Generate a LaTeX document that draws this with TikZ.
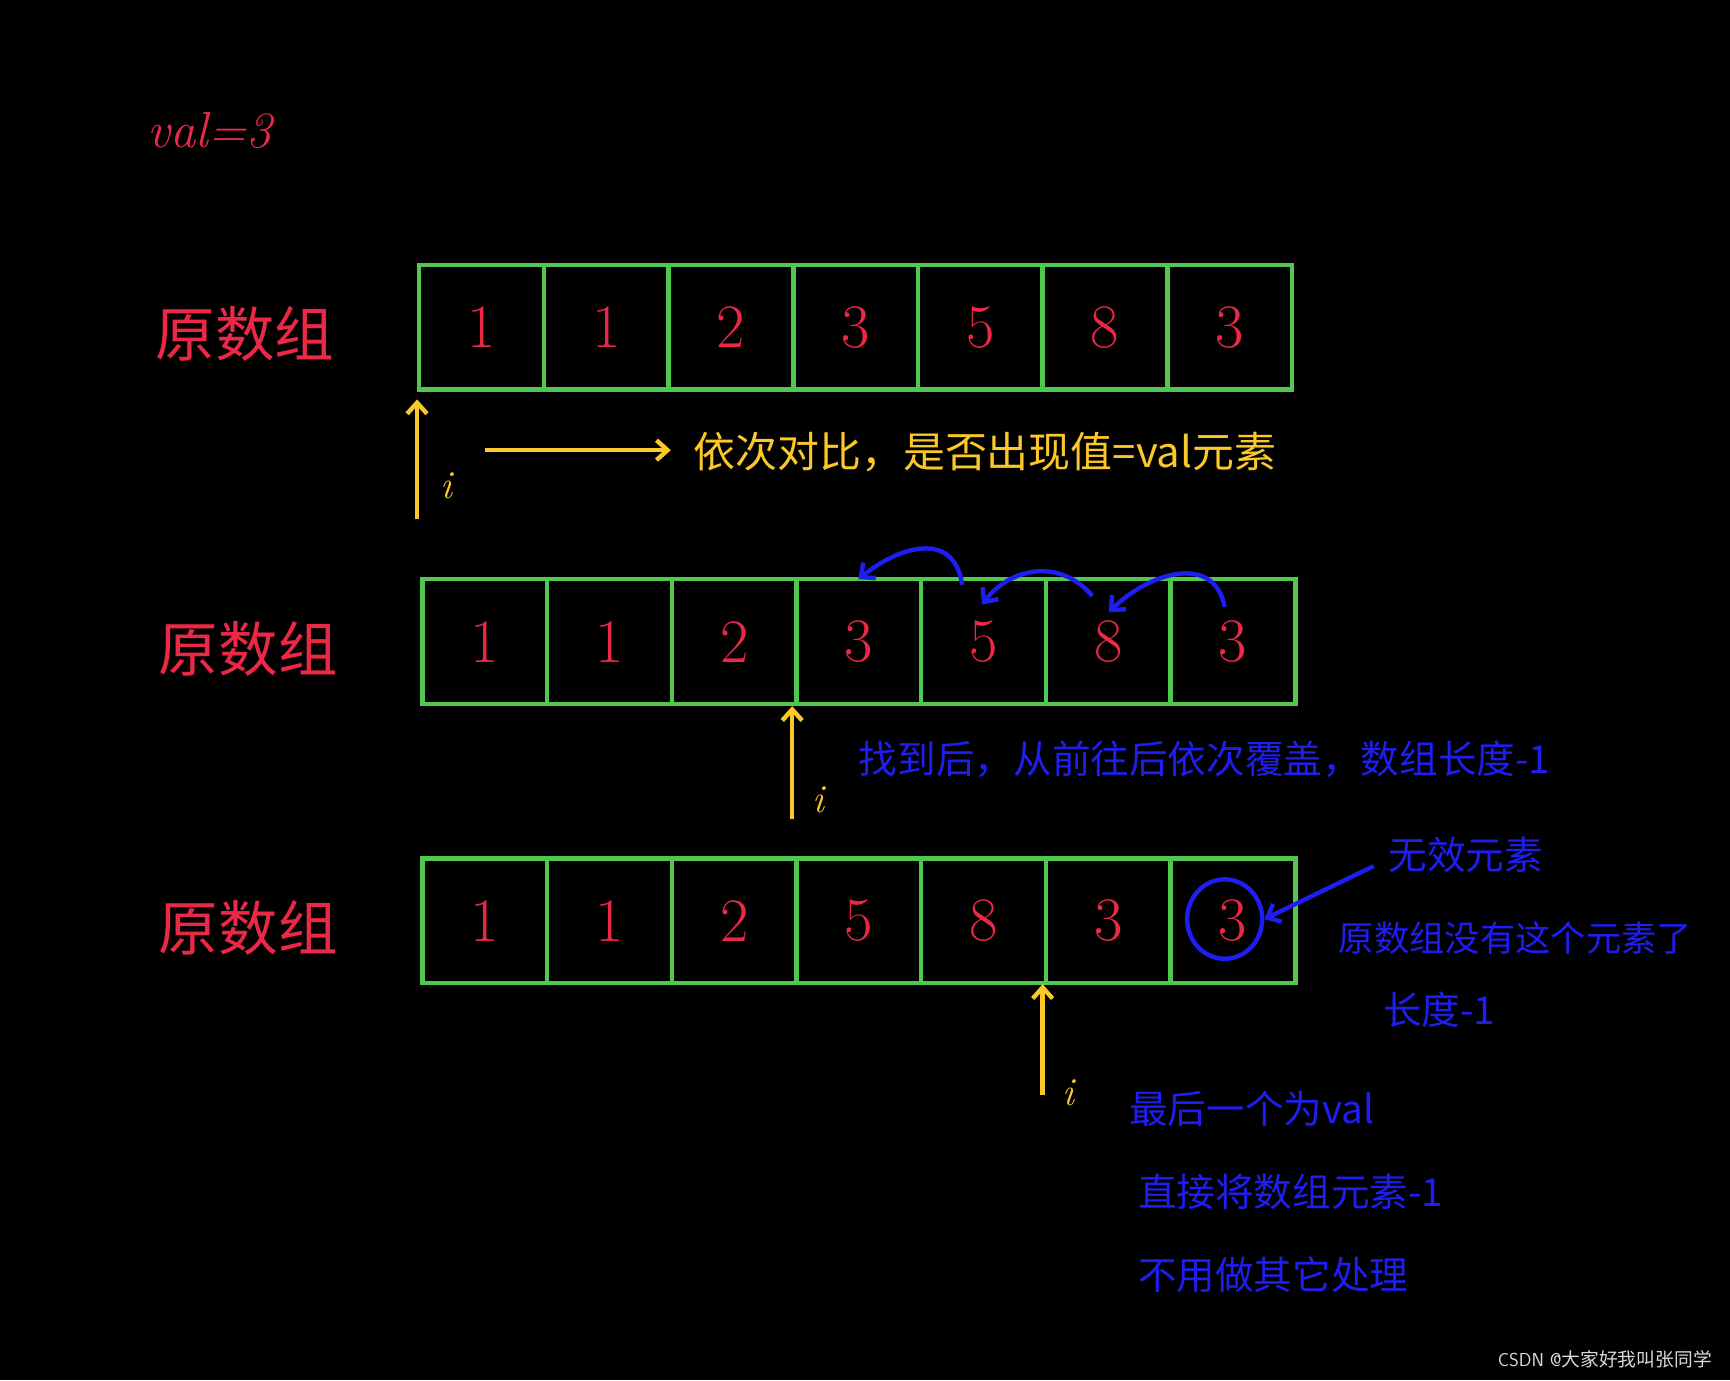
\documentclass[tikz,border=0pt]{standalone}
\usepackage{fontspec}
\newfontfamily\cjk{Noto Sans CJK SC}
\definecolor{myred}{RGB}{235,40,70}
\definecolor{mygreen}{RGB}{80,200,80}
\definecolor{myyel}{RGB}{250,200,40}
\definecolor{myblue}{RGB}{30,30,240}
\usetikzlibrary{arrows.meta,shapes.geometric}
\begin{document}
\begin{tikzpicture}[x=1pt,y=-1pt,
  cell/.style={draw=mygreen,line width=4pt,minimum width=113pt,minimum height=113pt,anchor=north west,inner sep=0pt,text=myred,font=\fontsize{56}{56}\selectfont},
  lab/.style={text=myred,font=\cjk\fontsize{54}{54}\selectfont},
  ylab/.style={text=myyel,font=\cjk\fontsize{38}{38}\selectfont,anchor=west},
  blab/.style={text=myblue,font=\cjk\fontsize{35}{35}\selectfont,anchor=west},
  ilab/.style={text=myyel,font=\fontsize{36}{36}\selectfont\itshape},
  yarr/.style={draw=myyel,line width=4pt,-{Straight Barb[length=10pt,width=18pt]}},
  barr/.style={draw=myblue,line width=4pt,-{Straight Barb[length=10pt,width=18pt]}}]
\fill[black] (0,0) rectangle (1568,1251);
\node[text=myred,font=\fontsize{46}{46}\selectfont\itshape] (val) at (190,118) {val=3};
% rows
\node[lab] (l1) at (222,303) {原数组};
\node[lab] (l2) at (225,588) {原数组};
\node[lab] (l3) at (225,841) {原数组};
\foreach \v [count=\k from 0] in {1,1,2,3,5,8,3}{
  \node[cell] (a\k) at (378+113*\k,238) {\v};
  \node[cell] (b\k) at (381+113*\k,523) {\v};
}
\foreach \v [count=\k from 0] in {1,1,2,5,8,3,3}{
  \node[cell] (c\k) at (381+113*\k,776) {\v};
}
% row 1 annotations
\coordinate (i1b) at (378,470);
\coordinate (i1t) at (378,362);
\draw[yarr] (i1b) -- (i1t);
\node[ilab] (i1) at (405,440) {i};
\coordinate (r1s) at (440,408);
\coordinate (r1e) at (608,408);
\draw[yarr] (r1s) -- (r1e);
\node[ylab] (t1) at (625,410) {依次对比，是否出现值=val元素};
% row 2
\draw[barr] (872,530) .. controls (865,480) and (815,495) .. (778,525);
\draw[barr] (990,540) .. controls (960,505) and (915,515) .. (890,548);
\draw[barr] (1110,550) .. controls (1100,500) and (1040,520) .. (1005,555);
\coordinate (i2b) at (718,742);
\coordinate (i2t) at (718,640);
\draw[yarr] (i2b) -- (i2t);
\node[ilab] (i2) at (742,725) {i};
\node[blab] (t2) at (775,688) {找到后，从前往后依次覆盖，数组长度-1};
% row 3
\node[draw=myblue,line width=4pt,ellipse,minimum width=68pt,minimum height=72pt,inner sep=0pt] (circ) at (1110,833) {};
\coordinate (wx) at (1245,785);
\draw[barr] (wx) -- (circ.east);
\node[blab] (t3) at (1255,775) {无效元素};
\node[blab,font=\cjk\fontsize{32}{32}\selectfont] (t4) at (1210,850) {原数组没有这个元素了};
\node[blab] (t5) at (1250,915) {长度-1};
\coordinate (i3b) at (945,992);
\coordinate (i3t) at (945,892);
\draw[yarr] (i3b) -- (i3t);
\node[ilab] (i3) at (968,990) {i};
\node[blab] (t6) at (1020,1005) {最后一个为val};
\node[blab] (t7) at (1028,1080) {直接将数组元素-1};
\node[blab] (t8) at (1028,1155) {不用做其它处理};
\node[text=white!85!black,font=\sffamily\fontsize{17}{17}\selectfont,anchor=east] (wm) at (1555,1232) {CSDN @\cjk 大家好我叫张同学};
\end{tikzpicture}
\end{document}
